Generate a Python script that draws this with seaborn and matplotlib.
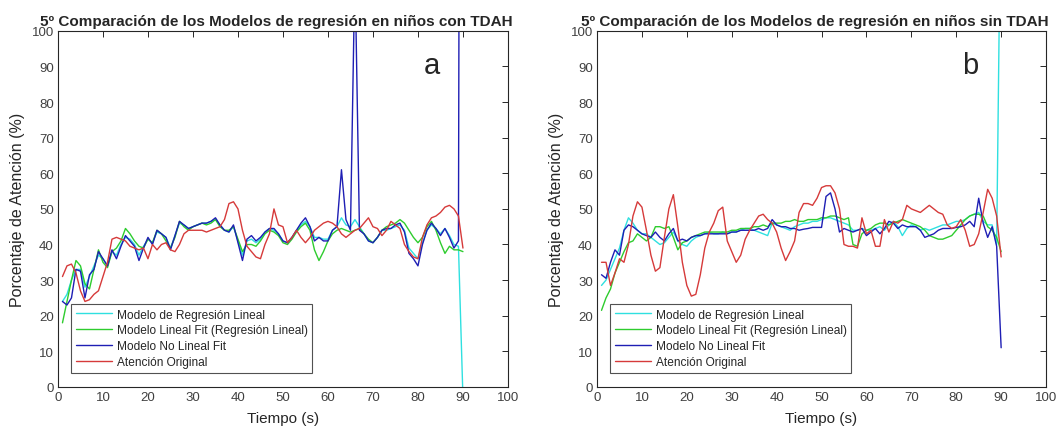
import numpy as np
import pandas as pd
import matplotlib
matplotlib.use("Agg")
import matplotlib.pyplot as plt
import seaborn as sns

# ---------------- data ----------------
tiempo = list(range(1, 91))

series_names = ["Modelo de Regresión Lineal",
                "Modelo Lineal Fit (Regresión Lineal)",
                "Modelo No Lineal Fit",
                "Atención Original"]

# Panel a: niños con TDAH
cyan_a = [24, 26, 30, 33, 33, 28, 31, 34, 37, 36,
          34, 38, 37, 40, 42, 41.5, 40, 37, 39.5, 41.5,
          40.5, 43.5, 43, 42, 39, 42.5, 46, 45.5, 44.5, 45,
          45.5, 46, 46, 46.5, 47, 45.5, 44, 43.5, 45, 41,
          37, 41, 41.5, 40.5, 41.5, 43.5, 44.5, 44, 43, 41,
          40.5, 42, 44, 45.5, 46.5, 45, 42, 42, 41.5, 41.5,
          44, 45, 47.5, 45.5, 45, 47, 45, 43, 41, 40.5,
          42, 44, 44, 44.5, 45, 45.5, 44, 39, 37.5, 36,
          40.5, 44, 45.5, 44.5, 43, 44.5, 42.5, 40, 39.5, -3]
green_a = [18, 24, 30, 35.5, 34, 29, 27.5, 33, 38.5, 35,
           33.5, 38, 39, 41, 44.5, 43, 41, 39.5, 39, 41.5,
           40.5, 44, 43, 41, 39, 42, 46.5, 45, 44, 45,
           45.5, 46, 45.5, 46, 47, 45, 44, 44, 45, 41.5,
           38, 40, 40, 39.5, 41, 43, 44, 43.5, 42.5, 40.5,
           40, 41.5, 43.5, 45, 46, 44, 38.5, 35.5, 38, 41,
           43, 44, 44.5, 44, 43.5, 44, 44.5, 43, 41.5, 40.5,
           42, 44, 45, 45.5, 46, 47, 46, 44, 42, 40.5,
           42, 45, 46.5, 44, 40.5, 37.5, 39.5, 38.5, 38.5, 38]
blue_a = [24, 23, 25, 33, 32.5, 25, 31.5, 33, 38, 36,
          34, 38.5, 36, 39.5, 42.5, 41, 39.5, 35.5, 39, 42,
          40, 44, 43, 42, 38.5, 42.5, 46.5, 45.5, 44.5, 45,
          45.5, 46, 46, 46.5, 47.5, 45.5, 44, 43.5, 45.5, 40.5,
          35.5, 41.5, 42.5, 41, 42, 43.5, 44.5, 44.5, 43, 41,
          40.5, 42, 44, 46, 47.5, 45, 41, 42, 41, 41,
          44, 45, 61, 47, 44, 118, 44, 43, 41, 40.5,
          42, 44, 44.5, 44.5, 45.5, 46, 43.5, 37.5, 36, 34,
          40, 44, 46, 44.5, 42.5, 44.5, 42, 39, 41, 600]
red_a = [31, 34, 34.5, 32, 27, 24, 24.5, 26, 27, 31,
         35, 41.5, 42, 41.5, 41, 39.5, 39, 38.5, 39, 36,
         40, 38.5, 40, 40.5, 38.5, 38, 40, 43, 44, 44,
         44, 44, 43.5, 44, 44.5, 45, 47, 51.5, 52, 50,
         44, 39.5, 38, 36.5, 36, 40, 43, 50, 45.5, 45,
         40.5, 42, 44, 42, 40.5, 42, 44, 45, 46, 46.5,
         46, 45, 43, 42, 43, 44, 44.5, 46, 47.5, 45,
         44.5, 42.5, 44, 46.5, 45.5, 44.5, 40, 38, 36.5, 36,
         42, 45.5, 47.5, 48, 49, 50.5, 51, 50, 48, 39]

# Panel b: niños sin TDAH
cyan_b = [28.5, 30, 33, 36, 39, 44, 47.5, 46, 44, 43,
          43, 42, 41, 40, 40.5, 42, 43.5, 41, 40, 39.5,
          41, 42, 42.5, 43, 43.5, 43, 43, 43.5, 43, 43.5,
          43.5, 44, 44.5, 44.5, 44, 43.5, 43, 42.5, 46, 45.5,
          45, 44.5, 44, 45, 45.5, 46, 46, 46.5, 46.5, 47,
          47.5, 47.5, 47, 46.5, 46, 45.5, 44, 44, 44.5, 44,
          44, 44.5, 45, 44, 45.5, 46.5, 45, 42.5, 44.5, 45.5,
          45, 44, 44.5, 44, 44.5, 45, 45.5, 45.5, 46, 46.5,
          46.5, 47, 48, 48.5, 49, 46.5, 45.5, 45.5, 40, 150]
green_b = [21.5, 25, 27.5, 32, 35, 38, 40.5, 41, 43, 42,
           41, 42, 45, 45, 44.5, 45, 42, 38.5, 40.5, 41,
           42, 42.5, 43, 43.5, 43.5, 43.5, 43.5, 43.5, 43.5, 44,
           44, 44.5, 44.5, 44.5, 45, 45, 45.5, 45, 46, 46,
           46, 46.5, 46.5, 47, 46.5, 46.5, 47, 47, 47, 47.5,
           47.5, 48, 48, 47.5, 47, 47.5, 40, 39.5, 43, 44,
           44.5, 45.5, 46, 46, 45.5, 46, 46.5, 47, 46.5, 46,
           45.5, 45, 44, 42.5, 42, 41.5, 41.5, 42, 42.5, 44,
           45.5, 47, 48, 48.5, 48.5, 48, 45, 44, 42, 38]
blue_b = [31.5, 30.5, 35, 38.5, 37, 44, 45.5, 45, 44, 43,
          42.5, 42, 43.5, 42, 41, 43, 44.5, 41, 41.5, 41,
          42, 42.5, 42.5, 43, 43, 43, 43, 43, 43, 43.5,
          43.5, 44, 44, 44, 44, 44.5, 44, 44.5, 47, 45.5,
          45, 45, 44.5, 44.5, 44, 44.3, 44.5, 44.8, 44.8, 44.8,
          53.5, 54.5, 50, 43.5, 44.5, 44, 43.5, 44, 44.5, 42.5,
          43.5, 44.5, 43, 44.5, 46.5, 46, 44.5, 45.5, 45, 45,
          45, 44, 42, 42.5, 43, 44, 44.5, 44.5, 44.5, 44.8,
          45, 45.5, 46.5, 45, 53, 46, 42, 45, 39.5, 11]
red_b = [35, 35, 28.5, 32, 36, 35, 40, 48, 52, 50.5,
         44, 37, 32.5, 33.5, 42, 50, 54, 45, 35, 28.5,
         25.5, 26, 31.5, 39, 43.5, 46, 49.5, 50.5, 41, 38,
         35, 37, 41.5, 44, 46, 48, 48.5, 47, 46, 43.5,
         39, 35.5, 38, 41, 49, 51.5, 51.5, 51, 53, 56,
         56.5, 56.5, 54.5, 50, 40, 39.5, 39.5, 39, 47.5, 43,
         44, 39.5, 39.5, 47, 43.5, 46.5, 46, 47, 51, 50,
         49.5, 49, 50, 51, 50, 49, 48.5, 45.5, 44.5, 45,
         47, 44, 39.5, 40, 43, 49, 55.5, 53, 48, 36.5]

titles = ["5º Comparación de los Modelos de regresión en niños con TDAH",
          "5º Comparación de los Modelos de regresión en niños sin TDAH"]
panel_tags = ["a", "b"]
x_ticks = [0, 10, 20, 30, 40, 50, 60, 70, 80, 90, 100]
y_ticks = [0, 10, 20, 30, 40, 50, 60, 70, 80, 90, 100]

colors = ["#2fe0e0", "#2ecc2e", "#1e1eb4", "#d63a3a"]

# ---------------- plotting ----------------
sns.set_style("white")
plt.rcParams["font.family"] = ["Liberation Sans", "DejaVu Sans"]
plt.rcParams["axes.edgecolor"] = "#262626"
plt.rcParams["axes.linewidth"] = 0.8

def long_df(vals):
    rows = []
    for name, v in zip(series_names, vals):
        for t, y in zip(tiempo, v):
            rows.append((t, y, name))
    return pd.DataFrame(rows, columns=["Tiempo", "Valor", "Serie"])

panels = [long_df([cyan_a, green_a, blue_a, red_a]),
          long_df([cyan_b, green_b, blue_b, red_b])]

fig = plt.figure(figsize=(10.58, 4.31), dpi=100)
axes_pos = [[0.0548, 0.100, 0.4253, 0.826],
            [0.5643, 0.100, 0.4244, 0.826]]

for i, df in enumerate(panels):
    ax = fig.add_axes(axes_pos[i])
    sns.lineplot(data=df, x="Tiempo", y="Valor", hue="Serie",
                 hue_order=series_names, palette=colors,
                 estimator=None, errorbar=None, sort=False,
                 linewidth=1.0, ax=ax)
    ax.set_xlim(0, 100)
    ax.set_ylim(0, 100)
    ax.set_xticks(x_ticks)
    ax.set_yticks(y_ticks)
    ax.tick_params(direction="in", length=4, width=0.7, top=True, right=True,
                   labelsize=9.5, colors="#262626", labelcolor="#404040",
                   pad=3)
    for sp in ax.spines.values():
        sp.set_visible(True)
        sp.set_color("#262626")
    ax.set_xlabel("Tiempo (s)", fontsize=11, color="#262626", labelpad=6)
    ax.set_ylabel("Porcentaje de Atención (%)", fontsize=11.5,
                  color="#262626", labelpad=5)
    ax.set_title(titles[i], fontsize=11, fontweight="bold", pad=4, x=0.485)
    ax.text(83, 90.5, panel_tags[i], fontsize=21, ha="center", va="center")
    leg = ax.legend(loc="lower left", bbox_to_anchor=(0.03, 0.04),
                    fontsize=8.6, frameon=True, fancybox=False,
                    handlelength=3.0, borderpad=0.38, labelspacing=0.32,
                    handletextpad=0.4, borderaxespad=0.0)
    leg.get_frame().set_edgecolor("#262626")
    leg.get_frame().set_linewidth(0.8)

fig.savefig("out.png", dpi=100)
